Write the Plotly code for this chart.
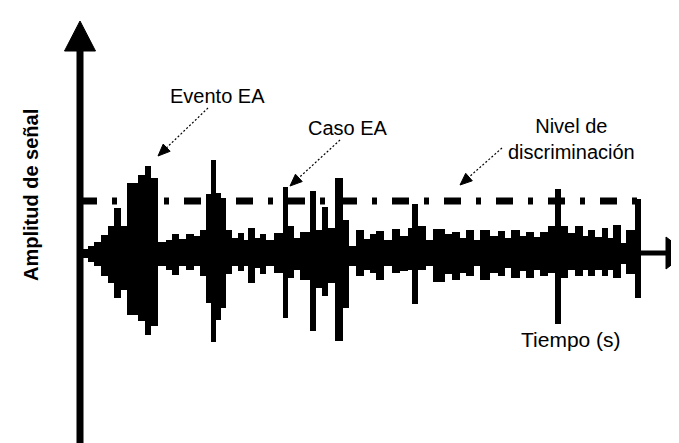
import plotly.graph_objects as go

# ---------------- data (time units, amplitude units; threshold level = 52) ----------------
seg_t0 = [2, 8, 14, 21, 28, 34, 41, 47, 58, 65, 71, 78, 86, 92, 99, 106, 114, 120, 126, 131,
          136, 141, 146, 152, 158, 164, 168, 175, 180, 186, 194, 203, 208, 214, 220, 230, 236,
          242, 248, 255, 263, 269, 276, 284, 290, 296, 304, 312, 320, 328, 332, 338, 346, 353,
          365, 372, 380, 386, 394, 400, 410, 418, 425, 431, 440, 446, 454, 460, 468, 475, 481,
          488, 495, 503, 508, 515, 522, 528, 533, 541, 546, 555]
seg_t1 = [8, 14, 21, 28, 34, 41, 47, 58, 65, 71, 78, 86, 92, 99, 106, 114, 120, 126, 131, 136,
          141, 146, 152, 158, 164, 168, 175, 180, 186, 194, 203, 208, 214, 220, 230, 236, 242,
          248, 255, 263, 269, 276, 284, 290, 296, 304, 312, 320, 328, 332, 338, 346, 353, 365,
          372, 380, 386, 394, 400, 410, 418, 425, 431, 440, 446, 454, 460, 468, 475, 481, 488,
          495, 503, 508, 515, 522, 528, 533, 541, 546, 555, 561]
seg_hi = [4, 7, 11, 18, 27, 45, 27, 70, 78, 87, 75, 11, 13, 19, 14, 19, 17, 23, 59, 93,
          60, 55, 23, 15, 20, 13, 25, 15, 19, 13, 20, 66, 27, 15, 21, 62, 23,
          46, 25, 75, 33, 7, 23, 14, 19, 22, 13, 24, 17, 25, 49, 27, 13, 24,
          19, 21, 15, 23, 13, 23, 17, 22, 15, 23, 17, 21, 16, 21, 27, 64, 27,
          20, 27, 17, 23, 16, 25, 15, 28, 10, 23, 54]
seg_lo = [-5, -9, -13, -23, -30, -45, -37, -62, -68, -82, -73, -13, -17, -22, -13, -17, -13, -23, -50, -89,
          -67, -55, -21, -13, -18, -13, -30, -15, -21, -13, -20, -65, -25, -17, -27, -78, -35,
          -43, -30, -88, -55, -13, -23, -17, -20, -27, -13, -20, -18, -17, -51, -17, -13, -29,
          -21, -27, -20, -23, -13, -27, -20, -23, -15, -25, -18, -25, -17, -23, -20, -71, -25,
          -17, -23, -17, -23, -17, -23, -17, -25, -11, -21, -45]

threshold = 52
threshold_end = 560
t_axis_end = 586
t_arrow_tip = 607
amp_axis_top = 202
amp_arrow_tip = 232

labels = ["Evento EA", "Caso EA", "Nivel de<br>discriminación"]
label_t = [137, 268, 491]
label_a = [157, 125, 114]
pointer_from_t = [128, 260, 422]
pointer_from_a = [145, 113, 105]
pointer_to_t = [78, 210, 380]
pointer_to_a = [97, 67, 68]

x_title = "Tiempo (s)"
y_title = "Amplitud de señal"

# ---------------- figure ----------------
centers = [(a + b) / 2 for a, b in zip(seg_t0, seg_t1)]
widths = [b - a for a, b in zip(seg_t0, seg_t1)]
heights = [h - l for h, l in zip(seg_hi, seg_lo)]

fig = go.Figure()
fig.add_trace(go.Bar(x=centers, y=heights, base=seg_lo, width=widths,
                     marker=dict(color="black", line=dict(width=0)),
                     hoverinfo="skip", showlegend=False))

shapes = []
# discrimination level
shapes.append(dict(type="line", x0=0, x1=threshold_end, y0=threshold, y1=threshold,
                   line=dict(color="black", width=7, dash="17px,15px,5px,15px"), layer="below"))
# time axis
shapes.append(dict(type="line", x0=0, x1=t_axis_end + 2, y0=0, y1=0,
                   line=dict(color="black", width=5)))
shapes.append(dict(type="path",
                   path=f"M {t_axis_end},16 L {t_arrow_tip},0 L {t_axis_end},-16 Z",
                   fillcolor="black", line=dict(color="black", width=1)))
# amplitude axis
shapes.append(dict(type="line", x0=0, x1=0, y0=-200, y1=amp_axis_top + 2,
                   line=dict(color="black", width=7)))
shapes.append(dict(type="path",
                   path=f"M -15.5,{amp_axis_top} L 0,{amp_arrow_tip} L 15.5,{amp_axis_top} Z",
                   fillcolor="black", line=dict(color="black", width=1)))

# pointers (dotted line + small arrowhead)
for ft, fa, tt, ta in zip(pointer_from_t, pointer_from_a, pointer_to_t, pointer_to_a):
    dx, dy = tt - ft, ta - fa
    n = (dx * dx + dy * dy) ** 0.5
    ux, uy = dx / n, dy / n
    L, W = 12, 5
    bx, by = tt - ux * L, ta - uy * L
    px, py = -uy * W, ux * W
    shapes.append(dict(type="line", x0=ft, y0=fa, x1=bx, y1=by,
                       line=dict(color="black", width=1.2, dash="2px,2px")))
    shapes.append(dict(type="path",
                       path=f"M {tt},{ta} L {bx+px},{by+py} L {bx-px},{by-py} Z",
                       fillcolor="black", line=dict(color="black", width=1)))

annotations = []
for txt, t, a in zip(labels, label_t, label_a):
    annotations.append(dict(x=t, y=a, text=txt, showarrow=False,
                            font=dict(family="Liberation Sans, Arial", size=20, color="black")))
annotations.append(dict(x=491, y=-86, text=x_title, showarrow=False,
                        font=dict(family="Liberation Sans, Arial", size=21, color="black")))
annotations.append(dict(x=-49, y=58, text="<b>" + y_title + "</b>", showarrow=False, textangle=-90,
                        font=dict(family="Liberation Sans, Arial", size=20, color="black")))

fig.update_layout(
    width=679, height=443,
    margin=dict(l=0, r=0, t=0, b=0),
    paper_bgcolor="white", plot_bgcolor="white",
    shapes=shapes, annotations=annotations,
    xaxis=dict(range=[-72, 607], visible=False, fixedrange=True),
    yaxis=dict(range=[-198, 245], visible=False, fixedrange=True),
    bargap=0, barmode="overlay", showlegend=False,
)

fig.write_html("out.html")
